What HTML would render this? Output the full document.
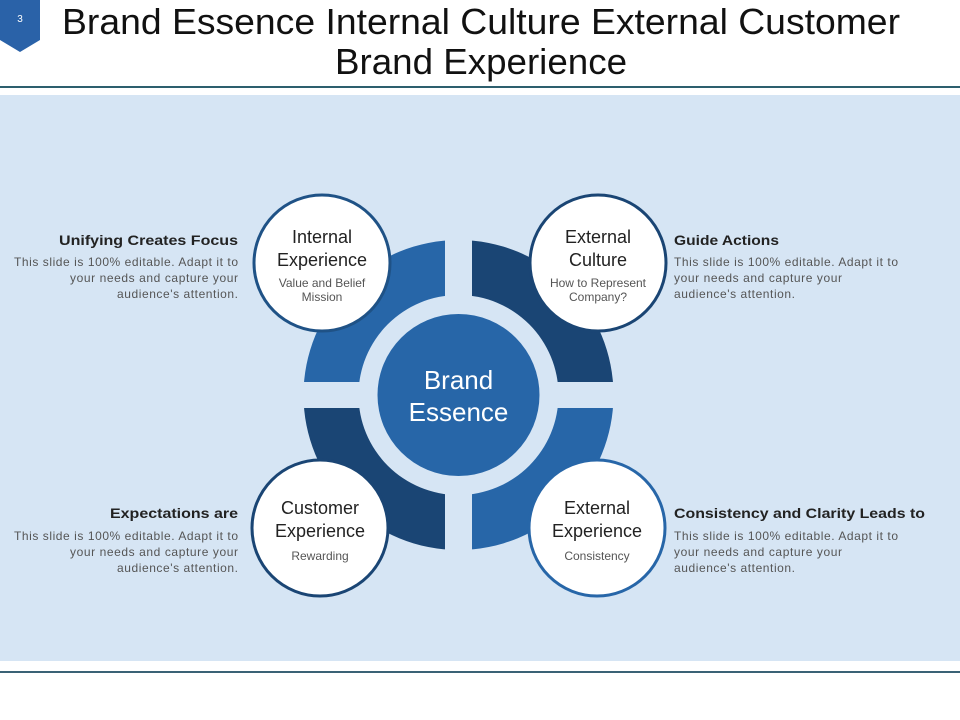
<!DOCTYPE html>
<html><head><meta charset="utf-8"><style>
html,body{margin:0;padding:0;background:#fff;}
body{width:960px;height:720px;position:relative;overflow:hidden;font-family:"Liberation Sans",Arial,sans-serif;}
</style></head><body>
<svg width="960" height="720" viewBox="0 0 960 720" xmlns="http://www.w3.org/2000/svg" style="position:absolute;left:0;top:0;font-family:'Liberation Sans',Arial,sans-serif">
<rect x="0" y="0" width="960" height="720" fill="#fff"/>
<polygon points="0,0 40,0 40,40 20,52 0,40" fill="#2a62a8"/>
<text x="20" y="22" font-size="10" fill="#fff" text-anchor="middle">3</text>
<text x="481" y="34" font-size="36" fill="#111" text-anchor="middle" textLength="838" lengthAdjust="spacingAndGlyphs">Brand Essence Internal Culture External Customer</text>
<text x="481" y="74" font-size="36" fill="#111" text-anchor="middle" textLength="292" lengthAdjust="spacingAndGlyphs">Brand Experience</text>
<rect x="0" y="86" width="960" height="2" fill="#2d5f6e"/>
<rect x="0" y="95" width="960" height="566" fill="#d6e5f4"/>
<rect x="0" y="671" width="960" height="2" fill="#3a6275"/>
<g transform="translate(458.5,395)">
<path d="M-155,0 A155,155 0 0 1 0,-155 L0,-100 A100,100 0 0 0 -100,0 Z" fill="#2766a8"/>
<path d="M0,-155 A155,155 0 0 1 155,0 L100,0 A100,100 0 0 0 0,-100 Z" fill="#1a4574"/>
<path d="M155,0 A155,155 0 0 1 0,155 L0,100 A100,100 0 0 0 100,0 Z" fill="#2766a8"/>
<path d="M0,155 A155,155 0 0 1 -155,0 L-100,0 A100,100 0 0 0 0,100 Z" fill="#1a4574"/>
<rect x="-13.5" y="-160" width="27" height="320" fill="#d6e5f4"/>
<rect x="-160" y="-13" width="320" height="26" fill="#d6e5f4"/>
<circle cx="0" cy="0" r="81" fill="#2766a8"/>
<text x="0" y="-6" font-size="26" fill="#fff" text-anchor="middle">Brand</text>
<text x="0" y="26" font-size="26" fill="#fff" text-anchor="middle">Essence</text>
</g>
<g font-size="18" fill="#222" text-anchor="middle">
<circle cx="322" cy="263" r="68" fill="#fff" stroke="#1f5286" stroke-width="3"/>
<text x="322" y="243">Internal</text><text x="322" y="266">Experience</text>
<text x="322" y="287" font-size="12" fill="#555">Value and Belief</text>
<text x="322" y="301" font-size="12" fill="#555">Mission</text>
<circle cx="598" cy="263" r="68" fill="#fff" stroke="#1a4574" stroke-width="3"/>
<text x="598" y="243">External</text><text x="598" y="266">Culture</text>
<text x="598" y="287" font-size="12" fill="#555">How to Represent</text>
<text x="598" y="301" font-size="12" fill="#555">Company?</text>
<circle cx="320" cy="528" r="68" fill="#fff" stroke="#1a4574" stroke-width="3"/>
<text x="320" y="514">Customer</text><text x="320" y="537">Experience</text>
<text x="320" y="560" font-size="12" fill="#555">Rewarding</text>
<circle cx="597" cy="528" r="68" fill="#fff" stroke="#2766a8" stroke-width="3"/>
<text x="597" y="514">External</text><text x="597" y="537">Experience</text>
<text x="597" y="560" font-size="12" fill="#555">Consistency</text>
</g>
<g font-size="12" fill="#555" text-anchor="end">
<text x="238" y="245" font-size="14" font-weight="bold" fill="#222" textLength="179" lengthAdjust="spacingAndGlyphs">Unifying Creates Focus</text>
<text x="238" y="266" textLength="224">This slide is 100% editable. Adapt it to</text>
<text x="238" y="282" textLength="168">your needs and capture your</text>
<text x="238" y="298" textLength="121">audience's attention.</text>
<text x="238" y="518" font-size="14" font-weight="bold" fill="#222" textLength="128" lengthAdjust="spacingAndGlyphs">Expectations are</text>
<text x="238" y="540" textLength="224">This slide is 100% editable. Adapt it to</text>
<text x="238" y="556" textLength="168">your needs and capture your</text>
<text x="238" y="572" textLength="121">audience's attention.</text>
</g>
<g font-size="12" fill="#555">
<text x="674" y="245" font-size="14" font-weight="bold" fill="#222" textLength="105" lengthAdjust="spacingAndGlyphs">Guide Actions</text>
<text x="674" y="266" textLength="224">This slide is 100% editable. Adapt it to</text>
<text x="674" y="282" textLength="168">your needs and capture your</text>
<text x="674" y="298" textLength="121">audience's attention.</text>
<text x="674" y="518" font-size="14" font-weight="bold" fill="#222" textLength="251" lengthAdjust="spacingAndGlyphs">Consistency and Clarity Leads to</text>
<text x="674" y="540" textLength="224">This slide is 100% editable. Adapt it to</text>
<text x="674" y="556" textLength="168">your needs and capture your</text>
<text x="674" y="572" textLength="121">audience's attention.</text>
</g>
</svg>
</body></html>
